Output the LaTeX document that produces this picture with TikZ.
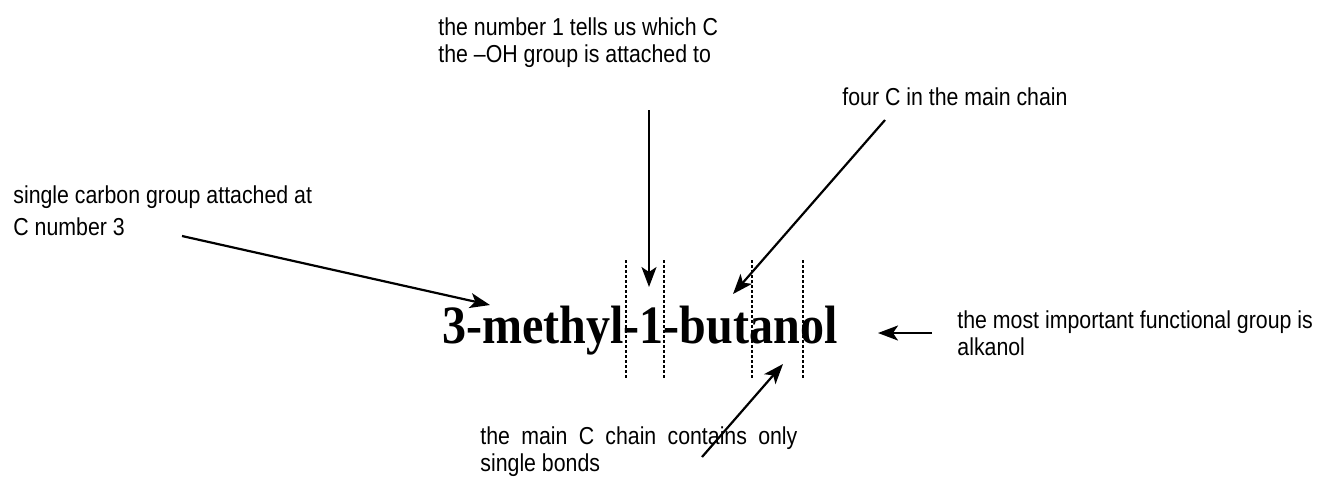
\documentclass[tikz,border=0pt]{standalone}
\usepackage{fontspec}
\usepackage{tikz}
\usetikzlibrary{arrows.meta}
\newfontfamily\notefont[FakeStretch=0.87]{Liberation Sans}
\newfontfamily\namefont[FakeStretch=0.89]{Liberation Serif}

\begin{document}
\begin{tikzpicture}[
  x=0.5pt, y=-0.5pt,
  note/.style={inner sep=0pt,anchor=base west,align=left,font=\notefont\fontsize{12.25}{13.5}\selectfont},
  molname/.style={inner sep=0pt,anchor=base west,font=\namefont\bfseries\fontsize{27}{30}\selectfont},
  arr/.style={-{Stealth[length=10pt,width=7.5pt,inset=2.5pt]},line width=1.1pt},
  cut/.style={line width=1pt,dash pattern=on 1.5pt off 1pt},
]
\useasboundingbox (0,0) rectangle (1320,478);

% the name in the middle
\node[molname] (name) at (442,343) {3-methyl-1-butanol};

% dotted cuts through the name
\foreach \cx in {626,664,752,803}
  \draw[cut] (\cx,260) -- (\cx,380);

% notes round the name (placed at the baseline of their last line)
\node[note] (num)   at (438,62)  {the number 1 tells us which C\\the –OH group is attached to};
\node[note] (four)  at (842,105) {four C in the main chain};
\node[note,font=\notefont\fontsize{12.25}{16}\selectfont] (meth) at (13,235) {single carbon group attached at\\C number 3};
\node[note] (group) at (957,355) {the most important functional group is\\alkanol};
\node[note] (bond)  at (480,471) {\makebox[158.5pt][s]{the main C chain contains only}\\single bonds};

% arrow ends
\coordinate (numA)   at (649,110);  \coordinate (numB)   at (649,287);
\coordinate (fourA)  at (885,120);  \coordinate (fourB)  at (733,294);
\coordinate (methA)  at (182,236);  \coordinate (methB)  at (490,305);
\coordinate (groupA) at (932,333);  \coordinate (groupB) at (878,333);
\coordinate (bondA)  at (702,457);  \coordinate (bondB)  at (783,364);

\draw[arr] (numA)   -- (numB);
\draw[arr] (fourA)  -- (fourB);
\draw[arr] (methA)  -- (methB);
\draw[arr] (groupA) -- (groupB);
\draw[arr] (bondA)  -- (bondB);
\end{tikzpicture}
\end{document}
